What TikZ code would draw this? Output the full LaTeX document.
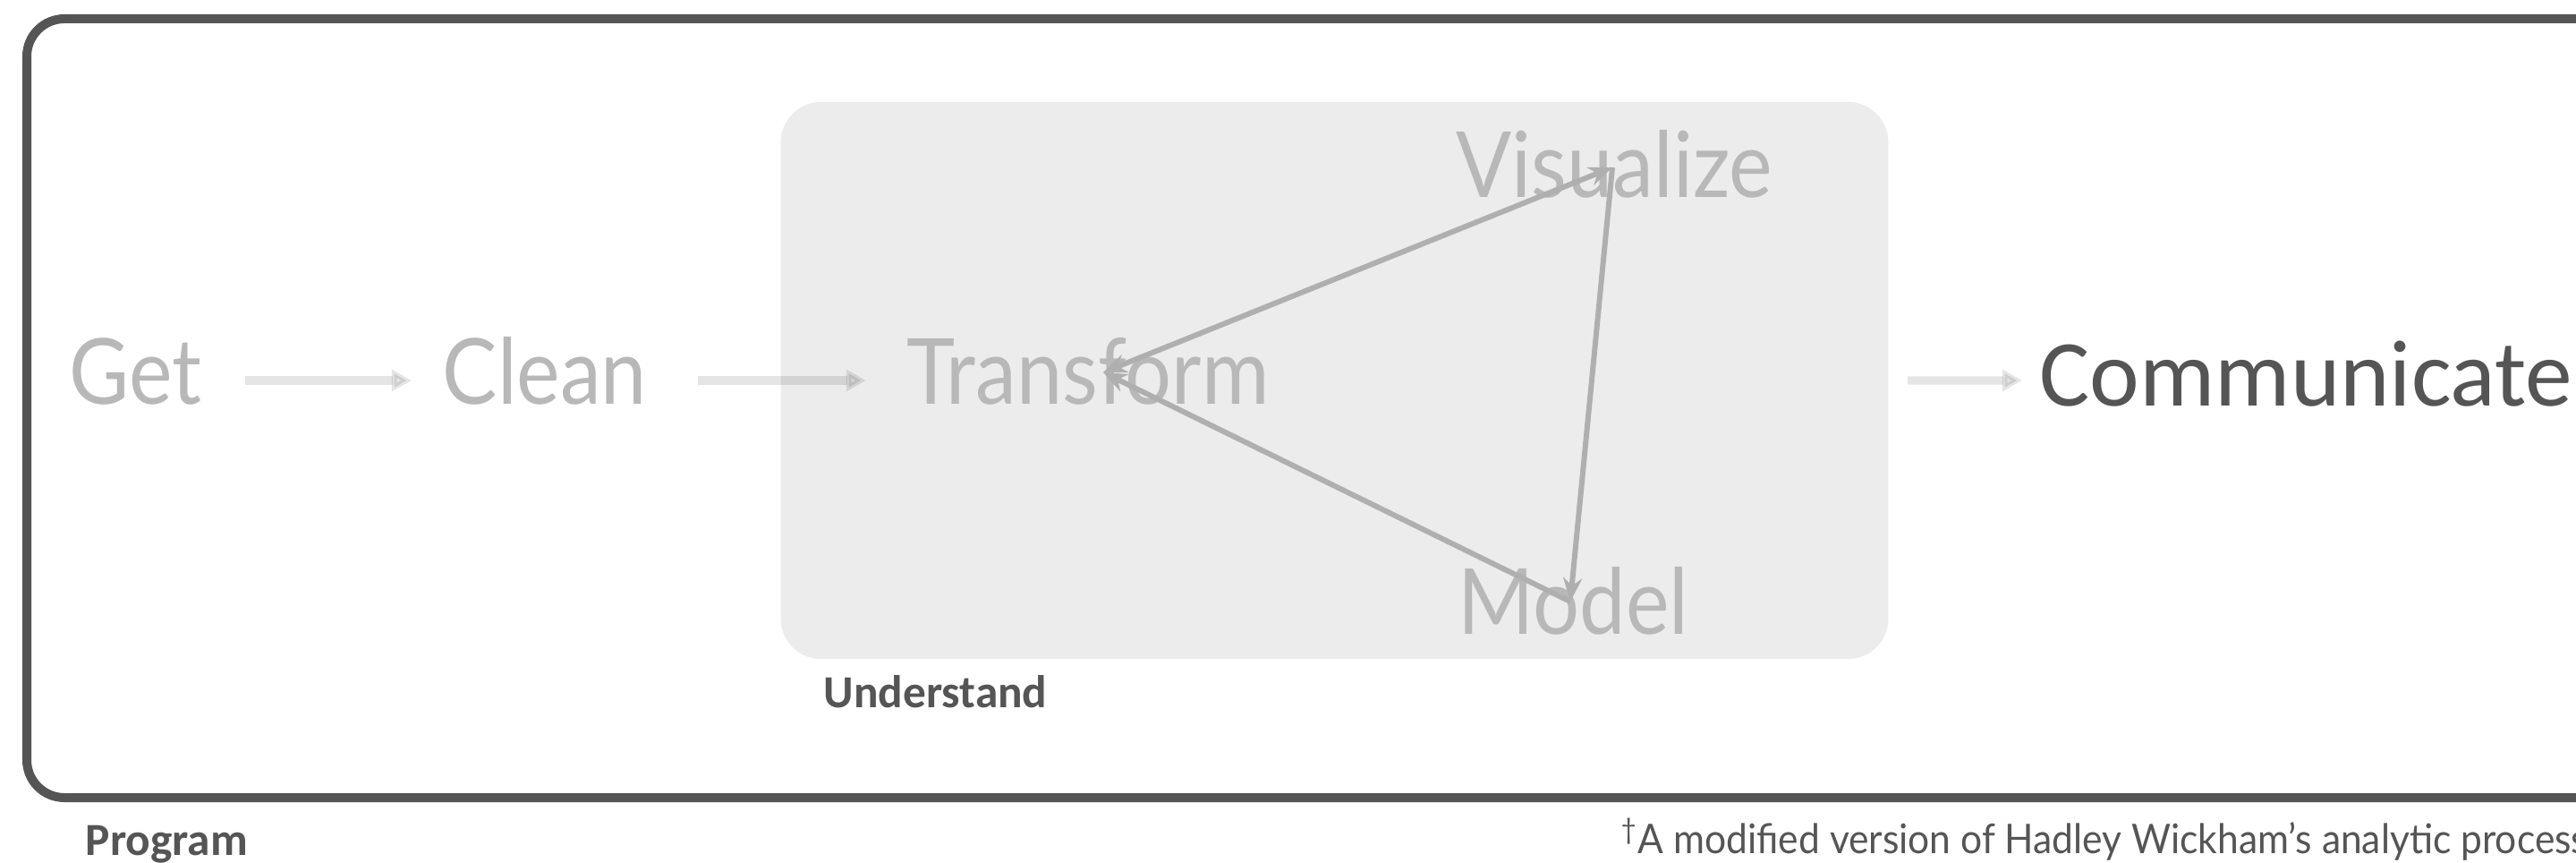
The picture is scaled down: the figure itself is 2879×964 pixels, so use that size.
\documentclass[tikz,border=0pt]{standalone}
\usepackage{fontspec}
\newfontfamily\gillfont[FakeStretch=0.9]{Lato}
\newfontfamily\notefont[FakeStretch=0.93]{Lato}
\newfontfamily\calfont{Carlito}
\usetikzlibrary{arrows.meta,positioning}
\definecolor{framegray}{HTML}{555555}
\definecolor{boxgray}{HTML}{ECECEC}
\definecolor{stepgray}{HTML}{B8B8B8}
\tikzset{
  stage/.style={inner sep=0, anchor=base west, align=left, text=stepgray,
    font=\gillfont\fontsize{29}{29}\selectfont, text height=0.74cm, text depth=0.2cm},
  tag/.style={inner sep=0, anchor=base west, text=framegray,
    font=\calfont\bfseries\fontsize{14.6}{14.6}\selectfont},
  flow/.style={draw=black, opacity=0.1, line width=2.6pt,
    -{Triangle[length=6.3pt,width=6.6pt]}},
  loopline/.style={draw=stepgray!95!black, line width=1.7pt},
  >={Stealth[length=7.5pt,width=6pt]}
}

\begin{document}
\begin{tikzpicture}[x=0.01cm, y=-0.01cm]
    \useasboundingbox (0,0) rectangle (2879,964);
    \draw[framegray, line width=0.1cm, rounded corners=0.42cm] (30,21) rectangle (2960,891);
    \node[fill=boxgray, rounded corners=0.45cm, minimum width=12.37cm, minimum height=6.22cm] (understandbox) at (1491.5,425) {};

    \node[stage, text width=1.50cm] at (77,452) (get) {Get};
    \node[stage, text width=2.25cm] at (494,452) (clean) {Clean};
    \node[stage, text width=4.32cm] at (1013,452) (transform) {Transform};
    \node[stage] at (1627,221) (visualize) {Visualize};
    \node[stage] at (1629,708) (model) {Model};
    \node[inner sep=0, anchor=base west, text=framegray, font=\calfont\fontsize{30}{30}\selectfont,
        text height=0.68cm, text depth=0.12cm] at (2279,453) (communicate) {Communicate};

    \node[tag] at (920,790) (understand) {Understand};
    \node[tag] at (95,955) (program) {Program};
    \node[inner sep=0, anchor=base west, text=framegray, font=\notefont\fontsize{13}{13}\selectfont]
        at (1811,953) (note) {\textsuperscript{\textdagger}A modified version of Hadley Wickham’s analytic process};

    \draw[flow, shorten <=0.45cm, shorten >=0.34cm] (get) -- (clean);
    \draw[flow, shorten <=0.59cm, shorten >=0.45cm] (clean) -- (transform);
    \draw[flow, shorten <=0.21cm, shorten >=0.19cm] (understandbox) -- (communicate);

    \coordinate (tf) at ([shift={(220,-36)}]transform.base west);
    \coordinate (vz) at ([shift={(175,-34)}]visualize.base west);
    \coordinate (md) at ([shift={(126,-36)}]model.base west);
    \draw[loopline, <->] (tf) -- (vz);
    \draw[loopline, ->] (vz) -- (md);
    \draw[loopline, ->] (md) -- (tf);
\end{tikzpicture}
\end{document}
